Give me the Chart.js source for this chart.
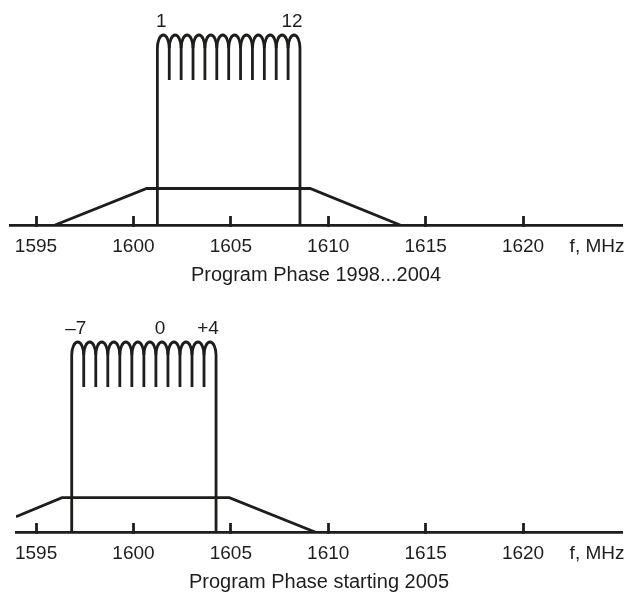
<!DOCTYPE html>
<html>
<head>
<meta charset="utf-8">
<script src="https://cdn.jsdelivr.net/npm/chart.js@4.4.1/dist/chart.umd.min.js"></script>
<style>
body { margin: 0; background: #fff; }
canvas { display: block; }
</style>
</head>
<body>
<canvas id="phase1" width="633" height="288"></canvas>
<canvas id="phase2" width="633" height="307"></canvas>
<script>
// axis
const tickVals = [1595, 1600, 1605, 1610, 1615, 1620];
const unitPos = 1623.8;
const unitText = 'f, MHz';

// phase 1998...2004
const chan1 = [1, 2, 3, 4, 5, 6, 7, 8, 9, 10, 11, 12];
const marked1 = [1, 12];
const band1 = [1601.23, 1608.55];
const mask1X = [1595.98, 1600.68, 1609.07, 1613.69];
const mask1Y = [0, 36.5, 36.5, 0];

// phase starting 2005
const chan2 = [-7, -6, -5, -4, -3, -2, -1, 0, 1, 2, 3, 4];
const marked2 = [-7, 0, 4];
const band2 = [1596.83, 1604.24];
const mask2X = [1593.97, 1596.33, 1604.92, 1609.32];
const mask2Y = [15.3, 34.3, 34.3, 0];

// heights of the comb (same units as the y axis)
const legLow = 145;
const jointH = 177;
const archH = 190;
const labelH = 203;

const ink = '#1d1d1b';
const lw = 2.8;
const font = 'Liberation Sans, Arial, Helvetica, sans-serif';

const fmt = (c, signed) => {
  if (!signed) return String(c);
  if (c > 0) return '+' + c;
  if (c < 0) return '\u2013' + (-c);
  return '0';
};

const combPlugin = {
  id: 'comb',
  afterDatasetsDraw(chart, args, o) {
    const {ctx} = chart;
    const x = chart.scales.x, y = chart.scales.y;
    const a = o.band[0], b = o.band[1];
    const w = (b - a) / o.channels.length;
    const yj = y.getPixelForValue(jointH), yt = y.getPixelForValue(archH);
    const k = 0.5523;
    ctx.save();
    ctx.strokeStyle = ink;
    ctx.lineWidth = lw;
    ctx.fillStyle = ink;
    ctx.font = '19px ' + font;
    ctx.textAlign = 'center';
    ctx.textBaseline = 'middle';
    o.channels.forEach((c, i) => {
      const x0 = x.getPixelForValue(a + i * w);
      const x1 = x.getPixelForValue(a + (i + 1) * w);
      const xm = (x0 + x1) / 2;
      ctx.beginPath();
      ctx.moveTo(x0, yj);
      ctx.bezierCurveTo(x0, yj - (yj - yt) * k, xm - (xm - x0) * k, yt, xm, yt);
      ctx.bezierCurveTo(xm + (x1 - xm) * k, yt, x1, yj - (yj - yt) * k, x1, yj);
      ctx.stroke();
      if (o.marked.includes(c)) {
        ctx.fillText(fmt(c, o.signed), xm - 2, y.getPixelForValue(labelH));
      }
    });
    ctx.restore();
  }
};

function makeChart(id, p) {
  const n = p.channels.length;
  const w = (p.band[1] - p.band[0]) / n;
  const mask = p.maskX.map((v, i) => ({x: v, y: p.maskY[i]}));
  const edges = [
    {x: p.band[0], y: 0}, {x: p.band[0], y: jointH}, {x: p.band[0], y: null},
    {x: p.band[1], y: 0}, {x: p.band[1], y: jointH}
  ];
  const legs = [];
  for (let i = 1; i < n; i++) {
    const f = p.band[0] + i * w;
    legs.push({x: f, y: legLow}, {x: f, y: jointH}, {x: f, y: null});
  }
  const line = {showLine: true, borderColor: ink, borderWidth: lw, pointRadius: 0, spanGaps: false, fill: false};
  return new Chart(document.getElementById(id), {
    type: 'scatter',
    data: {
      datasets: [
        Object.assign({data: mask}, line),
        Object.assign({data: edges}, line),
        Object.assign({data: legs}, line)
      ]
    },
    options: {
      responsive: false,
      animation: false,
      events: [],
      layout: {padding: {left: p.left, right: 11, top: 0, bottom: 0}},
      plugins: {
        legend: {display: false},
        tooltip: {enabled: false},
        comb: {channels: p.channels, marked: p.marked, band: p.band, signed: p.signed}
      },
      scales: {
        x: {
          type: 'linear',
          min: p.min,
          max: 1625.08,
          afterBuildTicks: s => {
            s.ticks = tickVals.map(v => ({value: v})).concat([{value: unitPos}]);
          },
          afterFit: s => {
            s.height = 63;
            s.paddingLeft = 0;
            s.paddingRight = 0;
          },
          border: {display: true, color: ink, width: lw},
          grid: {
            drawOnChartArea: false,
            drawTicks: true,
            tickLength: -9,
            tickWidth: lw,
            tickColor: c => (c.tick && c.tick.value === unitPos) ? 'rgba(0,0,0,0)' : ink
          },
          ticks: {
            color: ink,
            padding: 19,
            maxRotation: 0,
            autoSkip: false,
            font: {family: font, size: 19},
            callback: v => v === unitPos ? unitText : String(v)
          },
          title: {
            display: true,
            text: p.caption,
            color: ink,
            font: {family: font, size: 20},
            padding: {top: 0, bottom: 1}
          }
        },
        y: {
          type: 'linear',
          display: false,
          min: 0,
          max: p.ymax
        }
      }
    },
    plugins: [combPlugin]
  });
}

makeChart('phase1', {
  channels: chan1, marked: marked1, band: band1, signed: false,
  maskX: mask1X, maskY: mask1Y, min: 1593.665, left: 10, ymax: 225,
  caption: 'Program Phase 1998...2004'
});
makeChart('phase2', {
  channels: chan2, marked: marked2, band: band2, signed: true,
  maskX: mask2X, maskY: mask2Y, min: 1593.97, left: 16, ymax: 244,
  caption: 'Program Phase starting 2005'
});
</script>
</body>
</html>
